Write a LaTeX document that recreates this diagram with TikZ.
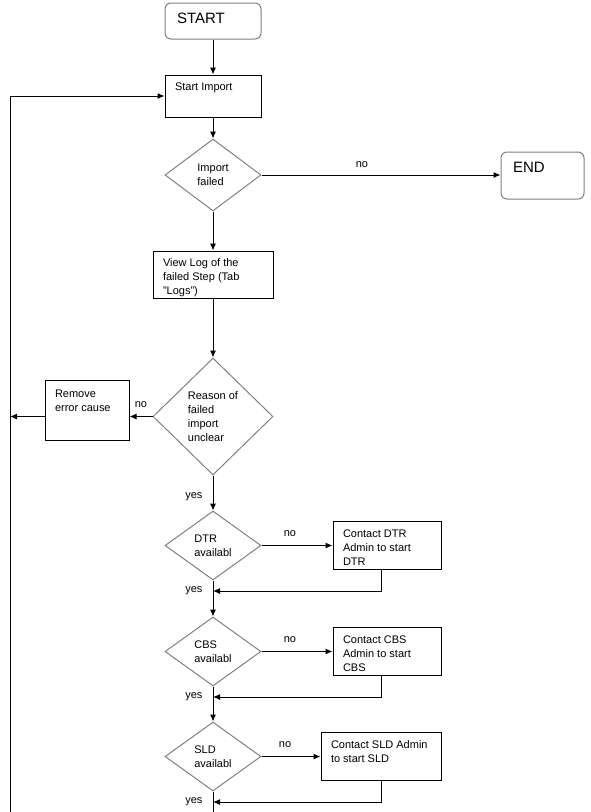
\documentclass[tikz,border=0pt]{standalone}
\usepackage{fontspec}
\setmainfont{Liberation Sans}
\usetikzlibrary{shapes.geometric,arrows.meta}

\begin{document}
\begin{tikzpicture}[x=1pt, y=-1pt, >={Latex[length=7pt,width=6pt]}, line width=1pt]
  \tikzset{
    every node/.style={font=\fontsize{11}{14}\selectfont},
    term/.style={draw=black!50, rounded corners=6pt, inner sep=0pt},
    proc/.style={draw, inner sep=0pt},
    decide/.style={diamond, draw=black!50, inner sep=0pt, align=left},
    inside/.style={anchor=north west, inner sep=0pt, align=left, xshift=10pt, yshift=-8pt},
    bigtext/.style={anchor=north west, inner sep=0pt, xshift=12pt, yshift=-10pt, font=\fontsize{15}{18}\selectfont},
    answer/.style={inner sep=0pt},
  }
  \useasboundingbox (0,0) rectangle (591,812);
  \coordinate (loop) at (10,812);

  \node[term, minimum width=96, minimum height=36, label={[bigtext]north west:START}] (start) at (213,21) {};
  \node[proc, minimum width=96, minimum height=42, label={[inside]north west:Start Import}] (imp) at (213,96) {};
  \node[decide, minimum width=96, minimum height=72] (fail) at (213,175) {Import\\failed};
  \node[term, minimum width=83, minimum height=47, label={[bigtext]north west:END}] (end) at (542.5,175.5) {};
  \node[proc, minimum width=120, minimum height=47, label={[inside]north west:{View Log of the\\failed Step (Tab\\"Logs")}}] (log) at (213,274.5) {};
  \node[decide, minimum width=120, minimum height=117] (reason) at (213,416.5) {Reason of\\failed\\import\\unclear};
  \node[proc, minimum width=84, minimum height=60, label={[inside, yshift=-2pt]north west:{Remove\\error cause}}] (rem) at (87,410) {};

  % the three systems
  \foreach \sys/\yc/\bx/\bw/\what in {DTR/545.5/387/108/{Contact DTR\\Admin to start\\DTR},
      CBS/651.5/387/108/{Contact CBS\\Admin to start\\CBS},
      SLD/756.5/381/120/{Contact SLD Admin\\to start SLD}}
  {
    \node[decide, minimum width=96, minimum height=69] (q\sys) at (213,\yc) {\sys\\availabl};
    \node[proc, minimum width=\bw, minimum height=48, label={[inside]north west:\what}] (c\sys) at (\bx,\yc) {};
    \coordinate (j\sys) at (213,\yc+45.5);
    \draw[->] (q\sys) -- node[answer, above=8pt, pos=0.4] {no} (c\sys);
    \draw[->] (c\sys.south -| 381,0) |- (j\sys) node[answer, left=10pt] {yes};
  }

  \draw[->] (start) -- (imp);
  \draw[->] (imp) -- (fail);
  \draw[->] (fail.east) -- node[answer, above=7pt, pos=0.42] {no} (fail.east -| end.west);
  \draw[->] (fail) -- (log);
  \draw[->] (log) -- (reason);
  \draw[->] (reason) -- node[answer, left=10pt, pos=0.61] {yes} (qDTR);
  \draw[->] (reason.west) -- node[answer, above=8pt] {no} (reason.west -| rem.east);
  \draw[->] (rem.west |- reason.west) -- (reason.west -| loop);
  \draw[->] (loop) |- (imp.west);
  \draw[->] (qDTR) -- (qCBS);
  \draw[->] (qCBS) -- (qSLD);
  \draw (qSLD) -- (qSLD.south |- loop);
\end{tikzpicture}
\end{document}
